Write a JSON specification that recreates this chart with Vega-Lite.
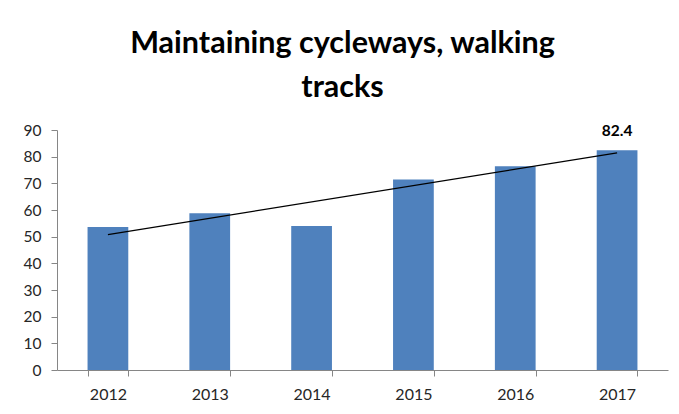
{
  "$schema": "https://vega.github.io/schema/vega-lite/v6.json",
  "autosize": {"type": "none"},
  "width": 611,
  "height": 240,
  "padding": {"left": 57, "top": 130, "right": 11, "bottom": 44},
  "background": "white",
  "config": {
    "view": {"stroke": null},
    "font": "Lato"
  },
  "title": {
    "text": ["Maintaining cycleways, walking", "tracks"],
    "font": "Lato",
    "fontSize": 30.5,
    "fontWeight": "bold",
    "color": "#000000",
    "anchor": "middle",
    "frame": "group",
    "lineHeight": 44,
    "dx": -20,
    "offset": 20
  },
  "data": {
    "values": [
      {"year": 2012, "value": 53.6},
      {"year": 2013, "value": 58.8},
      {"year": 2014, "value": 54.0},
      {"year": 2015, "value": 71.4},
      {"year": 2016, "value": 76.4},
      {"year": 2017, "value": 82.4}
    ]
  },
  "encoding": {
    "x": {
      "field": "year",
      "type": "ordinal",
      "scale": {"paddingInner": 0.6, "paddingOuter": 0.3},
      "axis": {
        "title": null,
        "labelAngle": 0,
        "tickBand": "extent",
        "domainColor": "#868686",
        "tickColor": "#868686",
        "tickSize": 6,
        "labelPadding": 10,
        "labelFontSize": 16,
        "labelColor": "#262626",
        "labelFont": "Lato"
      }
    },
    "y": {
      "field": "value",
      "type": "quantitative",
      "scale": {"domain": [0, 90]},
      "axis": {
        "title": null,
        "values": [0, 10, 20, 30, 40, 50, 60, 70, 80, 90],
        "grid": false,
        "domainColor": "#868686",
        "tickColor": "#868686",
        "tickSize": 6,
        "labelPadding": 10,
        "labelFontSize": 15.5,
        "labelColor": "#262626",
        "labelFont": "Lato"
      }
    }
  },
  "layer": [
    {
      "mark": {"type": "bar", "color": "#4F81BD"}
    },
    {
      "transform": [{"regression": "value", "on": "year"}],
      "mark": {"type": "line", "color": "#000000", "strokeWidth": 1.3}
    },
    {
      "transform": [{"filter": "datum.year == 2017"}],
      "mark": {"type": "text", "dy": -19, "fontWeight": "bold", "fontSize": 15.5, "font": "Lato", "color": "#000000"},
      "encoding": {"text": {"field": "value", "type": "quantitative", "format": ".1f"}}
    }
  ]
}
